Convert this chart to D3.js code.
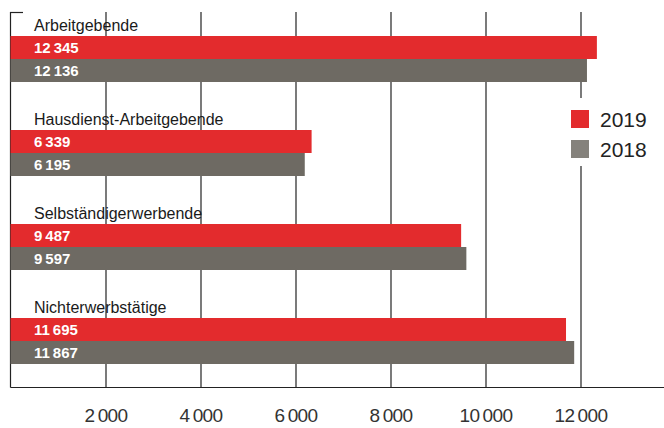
<!DOCTYPE html>
<html><head><meta charset="utf-8">
<script src="https://cdn.jsdelivr.net/npm/d3@7"></script>
<style>body{margin:0;background:#fff}svg{display:block}</style>
</head><body><svg id="c" width="664" height="428"></svg>
<script>
const categories = ["Arbeitgebende","Hausdienst-Arbeitgebende","Selbständigerwerbende","Nichterwerbstätige"];
const values2019 = [12345, 6339, 9487, 11695];
const values2018 = [12136, 6195, 9597, 11867];
const series = ["2019","2018"];
const tickValues = [2000,4000,6000,8000,10000,12000];
const colors = {"2019":"#e32b2d","2018":"#6e6a63"};
const legendColors = {"2019":"#e32b2d","2018":"#85827c"};

const svg = d3.select("#c");
const font = "'Liberation Sans', Arial, Helvetica, sans-serif";
const fmt = v => { const s = String(v); return s.length > 3 ? s.slice(0, s.length-3) + "\u2009" + s.slice(-3) : s; };

const x = d3.scaleLinear().domain([0, 12000]).range([10.5, 580.5]);
const yTop = 12, yBottom = 387;
const group = d3.scaleBand().domain(categories).range([13, 389]).paddingInner(0).paddingOuter(0);
const barH = 23;

// gridlines
const axis = d3.axisBottom(x).tickValues(tickValues).tickSize(-(yBottom - yTop)).tickFormat(fmt);
const gAxis = svg.append("g").attr("transform", `translate(0,${yBottom})`).call(axis);
gAxis.select(".domain").remove();
gAxis.selectAll(".tick line").attr("stroke", "#222").attr("stroke-width", 1.2);
gAxis.selectAll(".tick text").attr("y", 35).attr("dy", 0).attr("font-family", font).attr("font-size", 19)
  .attr("fill", "#333").style("letter-spacing", "-0.6px");

// baseline and left axis
svg.append("line").attr("x1", 10.5).attr("x2", 664).attr("y1", yBottom + 0.5).attr("y2", yBottom + 0.5).attr("stroke", "#222").attr("stroke-width", 1.2);
svg.append("line").attr("x1", 10.5).attr("x2", 10.5).attr("y1", yTop).attr("y2", yBottom + 0.5).attr("stroke", "#222").attr("stroke-width", 1.2);
svg.append("line").attr("x1", 10).attr("x2", 23).attr("y1", yTop + 0.5).attr("y2", yTop + 0.5).attr("stroke", "#222").attr("stroke-width", 1.2);

const data = categories.map((c, i) => ({cat: c, vals: [values2019[i], values2018[i]]}));
const g = svg.selectAll(".grp").data(data).join("g").attr("class", "grp")
  .attr("transform", d => `translate(0,${group(d.cat)})`);

g.append("text").attr("x", 34).attr("y", 18).text(d => d.cat)
  .attr("font-family", font).attr("font-size", 16).attr("fill", "#1a1a1a");

series.forEach((s, si) => {
  g.append("rect").attr("x", x(0)).attr("y", 23 + si * barH)
    .attr("width", d => x(d.vals[si]) - x(0)).attr("height", barH)
    .attr("fill", colors[s]);
  g.append("text").attr("x", 34).attr("y", 23 + si * barH + 17).text(d => fmt(d.vals[si]))
    .attr("font-family", font).attr("font-size", 15).attr("font-weight", "bold").attr("fill", "#fff");
});

// legend
const lg = svg.append("g");
lg.append("rect").attr("x", 562).attr("y", 98).attr("width", 100).attr("height", 68).attr("fill", "#fff");
series.forEach((s, i) => {
  lg.append("rect").attr("x", 571).attr("y", 110 + i * 30).attr("width", 18).attr("height", 18).attr("fill", legendColors[s]);
  lg.append("text").attr("x", 600).attr("y", 127 + i * 30).text(s)
    .attr("font-family", font).attr("font-size", 21).attr("fill", "#222");
});
</script></body></html>
